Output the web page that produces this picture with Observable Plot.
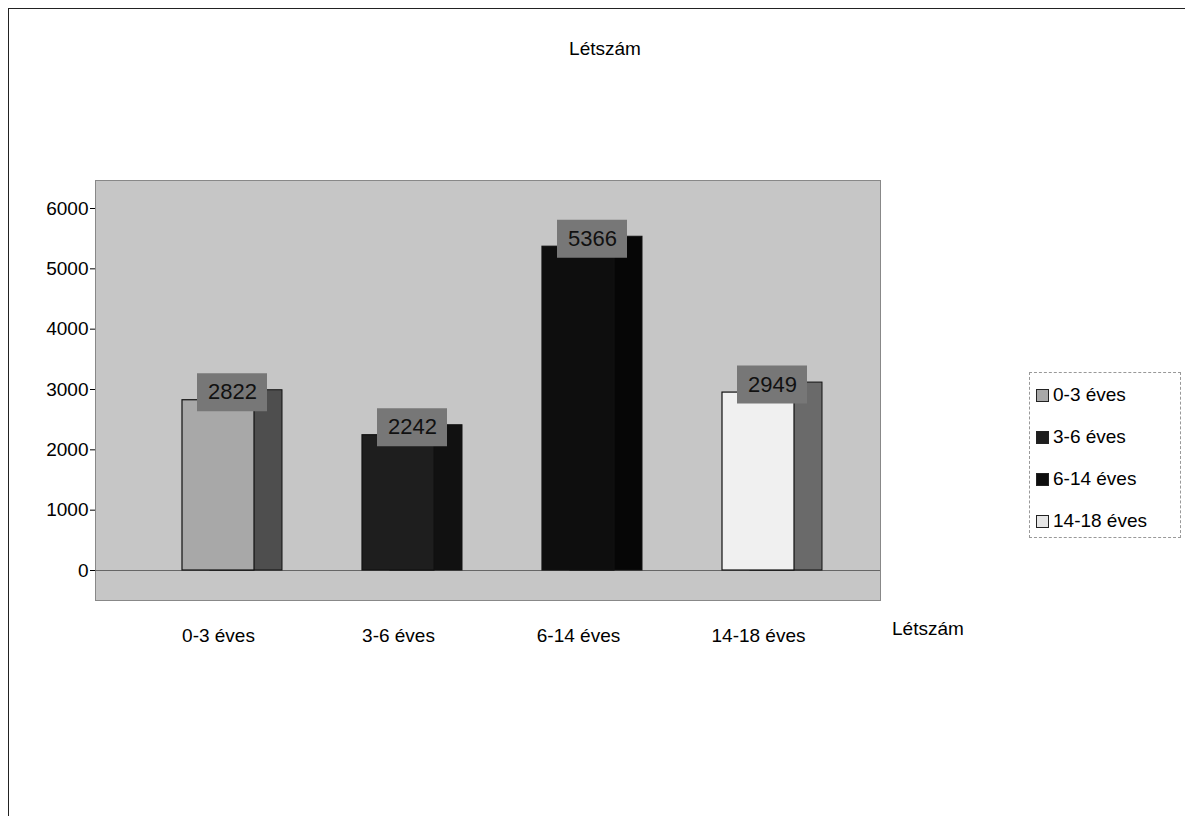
<!DOCTYPE html>
<html><head><meta charset="utf-8">
<script src="https://cdn.jsdelivr.net/npm/d3@7"></script>
<script src="https://cdn.jsdelivr.net/npm/@observablehq/plot@0.6"></script>
<style>
body{margin:0;background:#fff;font-family:"Liberation Sans",Arial,sans-serif;}
#frame{position:absolute;left:8px;top:8px;width:1200px;height:830px;border-left:1px solid #222;border-top:1px solid #222;}
#title{position:absolute;left:0;width:1210px;top:38px;text-align:center;font-size:19px;}
#chart{position:absolute;left:0;top:0;}
#legend{position:absolute;left:1029px;top:372px;width:152px;height:166px;border:1px dashed #999;box-sizing:border-box;padding:1px 0 0 6px;}
.item{display:flex;align-items:center;font-size:19px;height:42px;}
.sw{width:11px;height:11px;border:1px solid #222;margin-right:4px;}
#series{position:absolute;left:892px;top:618px;font-size:19px;}
</style></head>
<body>
<div id="frame"></div>
<div id="title"></div>
<div id="chart"></div>
<div id="legend"></div>
<div id="series"></div>
<script>
const categories = ["0-3 éves", "3-6 éves", "6-14 éves", "14-18 éves"];
const values = [2822, 2242, 5366, 2949];
const yTicks = [0, 1000, 2000, 3000, 4000, 5000, 6000];
const chartTitle = "Létszám";
const seriesName = "Létszám";

const frontColors = ["#a8a8a8", "#1e1e1e", "#0e0e0e", "#f0f0f0"];
const sideColors = ["#4e4e4e", "#111111", "#060606", "#6a6a6a"];

const data = categories.map((c, i) => ({cat: c, value: values[i]}));

const sideMarks = data.map((d, i) => Plot.barY([d], {x: "cat", y: "value", fill: sideColors[i], stroke: "#111", strokeWidth: 1, dx: 28, dy: -10, insetBottom: -10}));
const frontMarks = data.map((d, i) => Plot.barY([d], {x: "cat", y: "value", fill: frontColors[i], stroke: "#111", strokeWidth: 1.2}));

const chart = Plot.plot({
  width: 1020,
  height: 760,
  marginLeft: 95,
  marginRight: 140,
  marginTop: 208,
  marginBottom: 190,
  style: {fontFamily: "Liberation Sans, Arial, sans-serif", background: "transparent"},
  x: {domain: categories, paddingInner: 0.6, paddingOuter: 0.48},
  y: {domain: [0, 6000]},
  marks: [
    Plot.frame({fill: "#c6c6c6", stroke: "#888", insetTop: -28, insetBottom: -30}),
    Plot.ruleY([0], {stroke: "#666"}),
    ...sideMarks,
    ...frontMarks,
    Plot.tickY(data, {x: "cat", y: "value", stroke: "#777", strokeWidth: 38, dx: 14, dy: -8, insetLeft: 1, insetRight: 1}),
    Plot.text(data, {x: "cat", y: "value", text: d => String(d.value), fontSize: 22, fill: "#111", dx: 14, dy: -8}),
    Plot.axisY({ticks: yTicks, tickFormat: d3.format("d"), fontSize: 19, tickSize: 5, tickPadding: 2, label: null}),
    Plot.axisX({fontSize: 19, tickSize: 0, tickPadding: 58, label: null})
  ]
});
document.getElementById("chart").appendChild(chart);
document.getElementById("title").textContent = chartTitle;
document.getElementById("series").textContent = seriesName;

const lg = document.getElementById("legend");
categories.forEach((c, i) => {
  const it = document.createElement("div");
  it.className = "item";
  const sw = document.createElement("span");
  sw.className = "sw";
  sw.style.background = frontColors[i] === "#f0f0f0" ? "#e6e6e6" : frontColors[i];
  it.appendChild(sw);
  const t = document.createElement("span");
  t.textContent = c;
  it.appendChild(t);
  lg.appendChild(it);
});
</script>
</body></html>
